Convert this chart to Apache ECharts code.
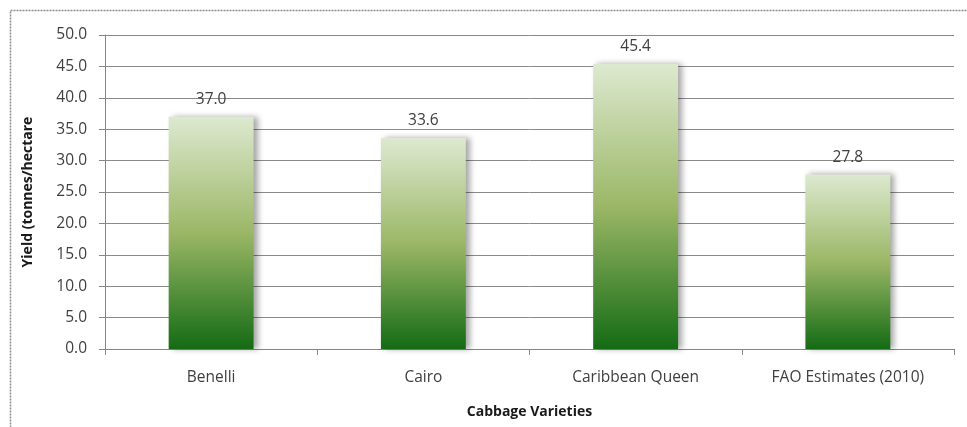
<!DOCTYPE html>
<html>
<head>
<meta charset="utf-8">
<script src="https://cdn.jsdelivr.net/npm/echarts@6/dist/echarts.min.js"></script>
<style>
  html, body { margin: 0; padding: 0; background: #fff; }
  #chart { width: 967px; height: 427px; }
</style>
</head>
<body>
<div id="chart"></div>
<script>
var varieties = ['Benelli', 'Cairo', 'Caribbean Queen', 'FAO Estimates (2010)'];
var yields = [37.0, 33.6, 45.4, 27.8];

var font = '"Open Sans", "Noto Sans", sans-serif';

var barFill = new echarts.graphic.LinearGradient(0, 0, 0, 1, [
  { offset: 0, color: '#dde9d0' },
  { offset: 0.5, color: '#9bb766' },
  { offset: 1, color: '#146b14' }
]);

var chart = echarts.init(document.getElementById('chart'));
chart.setOption({
  animation: false,
  backgroundColor: '#fff',
  graphic: [{
    type: 'rect',
    shape: { x: 10.5, y: 10.5, width: 1000, height: 500 },
    style: { fill: 'none', stroke: '#8c8c8c', lineWidth: 1.5, lineDash: [2, 1] },
    silent: true
  }],
  grid: { left: 105, right: 13, top: 35, bottom: 78 },
  xAxis: {
    type: 'category',
    data: varieties,
    name: 'Cabbage Varieties',
    nameLocation: 'middle',
    nameGap: 56,
    nameTextStyle: { fontFamily: font, fontSize: 14, fontWeight: 'bold', color: '#1a1a1a' },
    axisLine: { lineStyle: { color: '#868686' } },
    axisTick: { show: true, length: 6, lineStyle: { color: '#868686' } },
    axisLabel: { fontFamily: font, fontSize: 15.5, color: '#404040', margin: 21 }
  },
  yAxis: {
    type: 'value',
    min: 0,
    max: 50,
    interval: 5,
    name: 'Yield (tonnes/hectare',
    nameLocation: 'middle',
    nameGap: 70,
    nameTextStyle: { fontFamily: font, fontSize: 14, fontWeight: 'bold', color: '#1a1a1a' },
    axisLine: { show: true, lineStyle: { color: '#868686' } },
    axisTick: { show: true, length: 6, lineStyle: { color: '#868686' } },
    axisLabel: {
      fontFamily: font, fontSize: 15.5, color: '#404040', margin: 18,
      formatter: function (v) { return v.toFixed(1); }
    },
    splitLine: { lineStyle: { color: '#8a8a8a', width: 1 } }
  },
  series: [{
    type: 'bar',
    data: yields,
    barWidth: '40%',
    itemStyle: {
      color: barFill,
      shadowColor: 'rgba(0,0,0,0.35)',
      shadowBlur: 6,
      shadowOffsetX: 4,
      shadowOffsetY: 0
    },
    label: {
      show: true,
      position: 'top',
      distance: 9,
      fontFamily: font,
      fontSize: 15.5,
      color: '#404040',
      formatter: function (p) { return p.value.toFixed(1); }
    }
  }]
});
</script>
</body>
</html>
